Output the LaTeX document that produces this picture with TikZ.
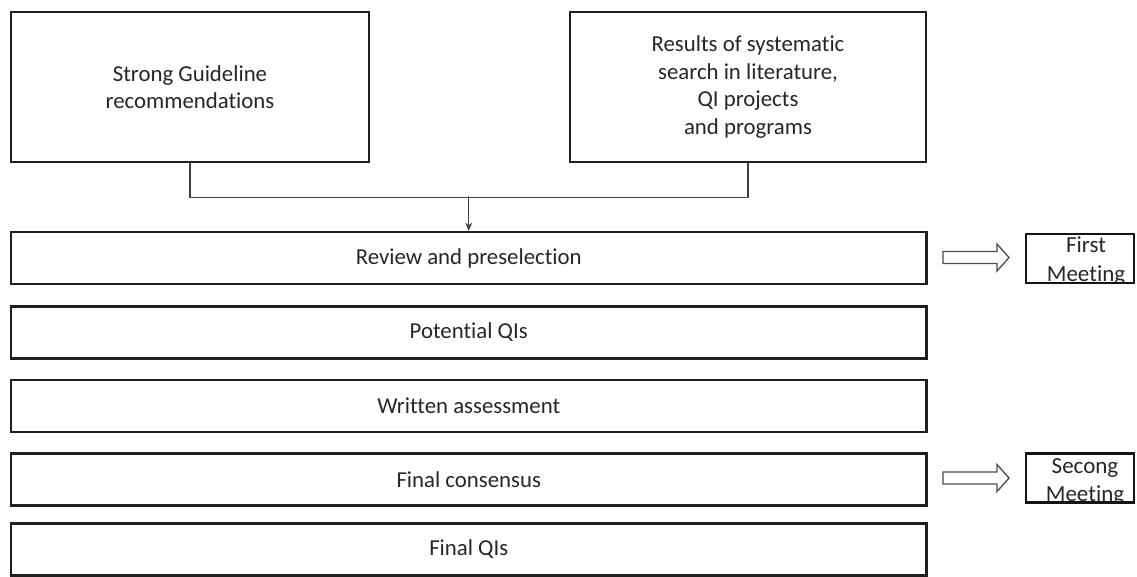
\documentclass[tikz,border=0pt]{standalone}
\usepackage{fontspec}
\setmainfont{Carlito}[Ligatures=NoCommon]
\usetikzlibrary{arrows.meta}
\begin{document}
\begin{tikzpicture}[x=1pt,y=-1pt,
  box/.style={draw=black!88, line width=2.6pt, inner sep=0pt, text=black!85,
    font=\fontsize{22.8}{27.5}\selectfont, align=center},
  wide/.style={box, minimum width=915.5pt, minimum height=52pt},
  topbox/.style={box, minimum height=150pt},
  meet/.style={draw=black!92, line width=2.6pt, minimum width=108pt, minimum height=49pt, inner sep=0pt},
  meettext/.style={anchor=base, inner sep=0pt, text=black!85, font=\fontsize{23}{27.5}\selectfont},
  conn/.style={draw=black!75, line width=1.4pt},
  hollow/.style={draw=black!70, line width=1.3pt, fill=white, line join=miter}
]
\useasboundingbox (0,0) rectangle (1137,576);

% top boxes
\node[topbox, minimum width=358pt] (a) at (190,87) {Strong Guideline\\recommendations};
\node[topbox, minimum width=356pt] (b) at (748,87) {Results of systematic\\search in literature,\\QI projects\\and programs};

% wide boxes
\node[wide] (r1) at (468.75,258) {Review and preselection};
\node[wide] (r2) at (468.75,332.5) {Potential QIs};
\node[wide] (r3) at (468.75,405.8) {Written assessment};
\node[wide] (r4) at (468.75,479.2) {Final consensus};
\node[wide] (r5) at (468.75,549.5) {Final QIs};

% connectors
\coordinate (j) at (468.75,196);
\draw[conn] (a.south) -- ++(0,34) -| (b.south);
\draw[conn, -{Stealth[length=8pt,width=7pt]}] (j) -- (r1.north);

% hollow arrows
\coordinate (h1) at (943,257.5);
\coordinate (h2) at (943,478);
\foreach \h in {h1,h2}{
  \draw[hollow] (\h) ++(0,-6) -- ++(54,0) -- ++(0,-7.5) -- ++(12,13.5) -- ++(-12,13.5)
    -- ++(0,-7.5) -- ++(-54,0) -- cycle;
}

% meeting boxes
\begin{scope}
  \clip (1026,234) rectangle (1134,283);
  \node[meettext] (m1a) at (1086,252) {First};
  \node[meettext] (m1b) at (1086,281) {Meeting};
\end{scope}
\node[meet] (m1) at (1080,258.5) {};

\begin{scope}
  \clip (1026,454) rectangle (1134,502.5);
  \node[meettext] (m2a) at (1085,473) {Secong};
  \node[meettext] (m2b) at (1085,501) {Meeting};
\end{scope}
\node[meet] (m2) at (1080,478.2) {};
\end{tikzpicture}
\end{document}
